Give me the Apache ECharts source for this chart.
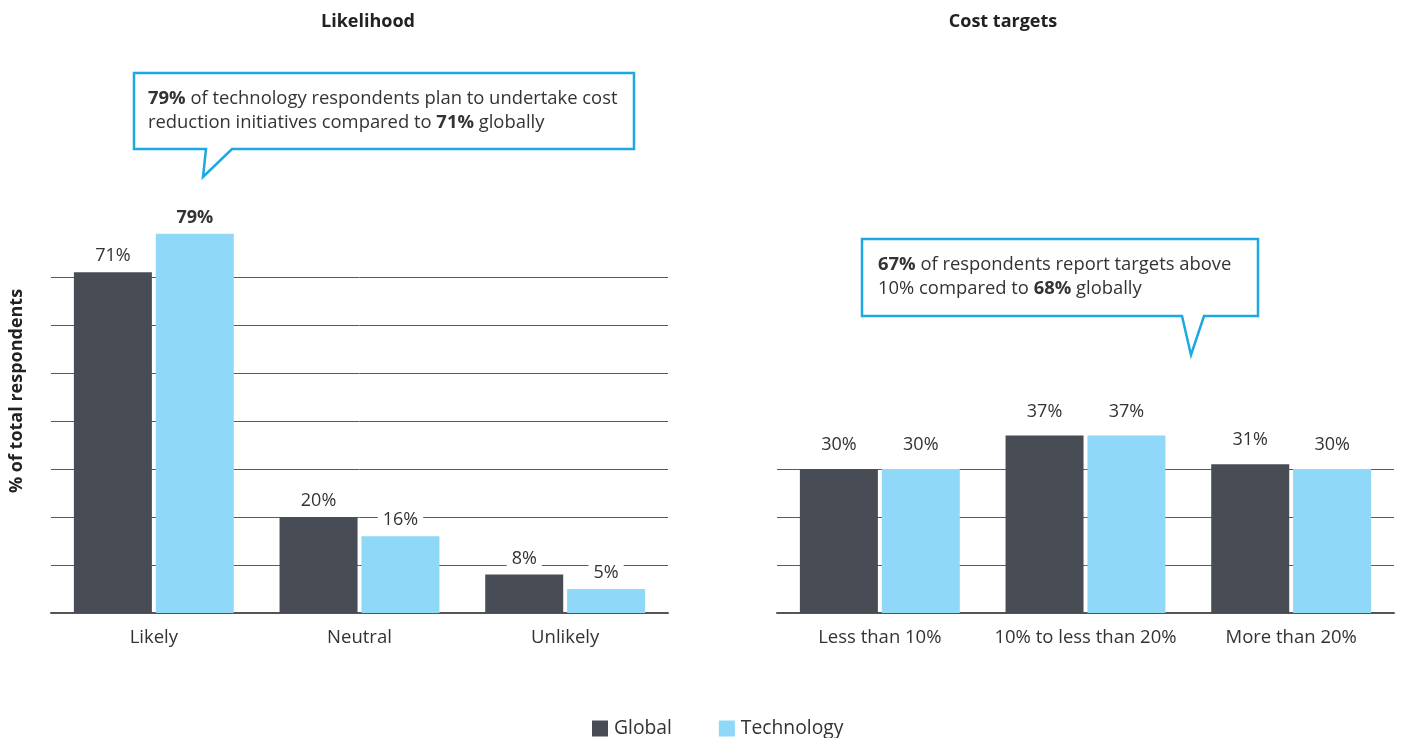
<!DOCTYPE html>
<html>
<head>
<meta charset="utf-8">
<script src="https://cdn.jsdelivr.net/npm/echarts@6/dist/echarts.min.js"></script>
<style>
  html, body { margin: 0; padding: 0; background: #fff; }
  #chart { width: 1402px; height: 738px; }
</style>
</head>
<body>
<div id="chart"></div>
<script>
// Survey results: likelihood of cost reduction and size of cost targets
const likelihoodCategories = ['Likely', 'Neutral', 'Unlikely'];
const likelihoodGlobal = [71, 20, 8];
const likelihoodTechnology = [79, 16, 5];

const targetCategories = ['Less than 10%', '10% to less than 20%', 'More than 20%'];
const targetGlobal = [30, 37, 31];
const targetTechnology = [30, 37, 30];

const DARK = '#484c55';
const LIGHT = '#8fd8f7';
const CALLOUT = '#1ca9e1';
const TEXT = '#333333';
const FONT = '"Open Sans", "Noto Sans", sans-serif';

const chart = echarts.init(document.getElementById('chart'));

const gridGrey = '#5a5a5a';
const clear = 'rgba(0,0,0,0)';
const leftLineColors = [gridGrey, gridGrey, gridGrey, gridGrey, gridGrey, gridGrey, gridGrey, gridGrey, clear];
const rightLineColors = [gridGrey, gridGrey, gridGrey, gridGrey, clear, clear, clear, clear, clear];

function valueLabel(distance) {
  return {
    show: true,
    position: 'top',
    distance: distance,
    formatter: '{c}%',
    fontFamily: FONT,
    fontSize: 18,
    color: TEXT,
    backgroundColor: '#ffffff',
    padding: [2, 5]
  };
}

function yAxis(gridIndex, colors) {
  return {
    type: 'value',
    gridIndex: gridIndex,
    min: 0,
    max: 80,
    interval: 10,
    axisLabel: { show: false },
    axisTick: { show: false },
    axisLine: { show: false },
    splitLine: { show: true, lineStyle: { color: colors, width: 1 } }
  };
}

function xAxis(gridIndex, cats) {
  return {
    type: 'category',
    gridIndex: gridIndex,
    data: cats,
    axisTick: { show: false },
    axisLine: { show: true, lineStyle: { color: '#555555', width: 2 } },
    axisLabel: { interval: 0, margin: 15, fontFamily: FONT, fontSize: 18.5, color: TEXT }
  };
}

function barSeries(name, xi, data, color, labelDistance) {
  return {
    name: name,
    type: 'bar',
    xAxisIndex: xi,
    yAxisIndex: xi,
    data: data,
    barWidth: 78,
    barGap: '5%',
    itemStyle: { color: color },
    label: valueLabel(labelDistance),
    z: 3
  };
}

// The headline technology value on "Likely" is emphasised in bold
const techLikelihoodData = likelihoodTechnology.map((v, i) =>
  i === 0 ? { value: v, label: { fontWeight: 'bold' } } : v
);

const titleStyle = { fontFamily: FONT, fontSize: 18, fontWeight: 'bold', color: '#222' };
const boldRich = { b: { fontFamily: FONT, fontSize: 18.4, fontWeight: 'bold', fill: TEXT, lineHeight: 24 } };

const option = {
  backgroundColor: '#ffffff',
  textStyle: { fontFamily: FONT },
  title: [
    { text: 'Likelihood', left: 368, top: 13, padding: 0, textAlign: 'center', textStyle: titleStyle },
    { text: 'Cost targets', left: 1003, top: 13, padding: 0, textAlign: 'center', textStyle: titleStyle }
  ],
  legend: {
    data: ['Global', 'Technology'],
    left: 587,
    top: 714,
    icon: 'rect',
    itemWidth: 16,
    itemHeight: 16,
    itemGap: 47,
    textStyle: { fontFamily: FONT, fontSize: 19.3, color: TEXT, padding: [0, 0, 0, 1] }
  },
  grid: [
    { left: 51, width: 617, top: 229, height: 384 },
    { left: 777, width: 617, top: 229, height: 384 }
  ],
  xAxis: [xAxis(0, likelihoodCategories), xAxis(1, targetCategories)],
  yAxis: [yAxis(0, leftLineColors), yAxis(1, rightLineColors)],
  series: [
    barSeries('Global', 0, likelihoodGlobal, DARK, 5),
    barSeries('Technology', 0, techLikelihoodData, LIGHT, 5),
    barSeries('Global', 1, targetGlobal, DARK, 13),
    barSeries('Technology', 1, targetTechnology, LIGHT, 13)
  ],
  graphic: [
    {
      type: 'text',
      x: 17, y: 391,
      rotation: Math.PI / 2,
      style: {
        text: '% of total respondents',
        fontFamily: FONT, fontSize: 18, fontWeight: 'bold', fill: '#222',
        align: 'center', verticalAlign: 'middle'
      }
    },
    // Callout for the likelihood panel
    {
      type: 'polygon',
      shape: { points: [[134, 73], [634, 73], [634, 149], [232, 149], [203, 177], [206, 149], [134, 149]] },
      style: { fill: '#ffffff', stroke: CALLOUT, lineWidth: 2.5 },
      z: 10
    },
    {
      type: 'text',
      x: 148, y: 87,
      z: 11,
      style: {
        text: '{b|79%} of technology respondents plan to undertake cost\nreduction initiatives compared to {b|71%} globally',
        fontFamily: FONT, fontSize: 18.4, fill: TEXT, lineHeight: 24,
        verticalAlign: 'top',
        rich: boldRich
      }
    },
    // Callout for the cost targets panel
    {
      type: 'polygon',
      shape: { points: [[862, 239], [1258, 239], [1258, 316], [1204, 316], [1191, 355], [1182, 316], [862, 316]] },
      style: { fill: '#ffffff', stroke: CALLOUT, lineWidth: 2.5 },
      z: 10
    },
    {
      type: 'text',
      x: 878, y: 253,
      z: 11,
      style: {
        text: '{b|67%} of respondents report targets above\n10% compared to {b|68%} globally',
        fontFamily: FONT, fontSize: 18.4, fill: TEXT, lineHeight: 24,
        verticalAlign: 'top',
        rich: boldRich
      }
    }
  ]
};

chart.setOption(option);
</script>
</body>
</html>
